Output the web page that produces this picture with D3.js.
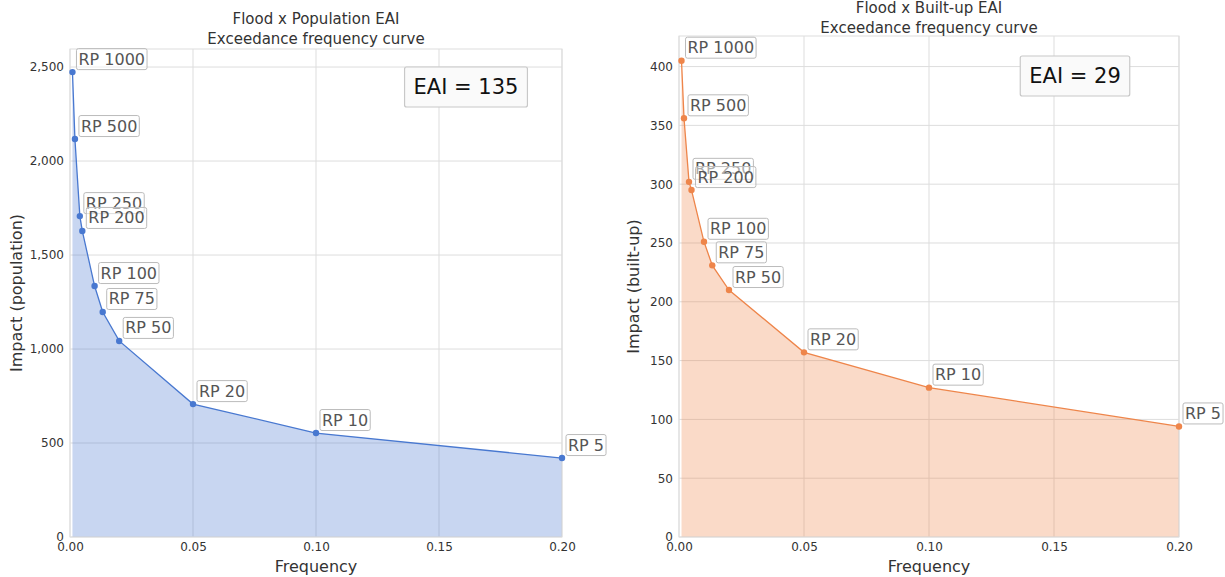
<!DOCTYPE html>
<html>
<head>
<meta charset="utf-8">
<script src="https://cdn.jsdelivr.net/npm/d3@7"></script>
<style>
  body { margin: 0; background: #fff; }
  svg { font-family: "DejaVu Sans", sans-serif; }
</style>
</head>
<body>
<div id="chart"></div>
<script>
// return periods and their exceedance frequencies
const rpLabels = ["RP 1000", "RP 500", "RP 250", "RP 200", "RP 100", "RP 75", "RP 50", "RP 20", "RP 10", "RP 5"];
const frequency = [0.001, 0.002, 0.004, 0.005, 0.01, 0.0133, 0.02, 0.05, 0.1, 0.2];

// impacts
const popImpact = [2473, 2117, 1707, 1628, 1335, 1197, 1043, 707, 553, 420];
const builtImpact = [405, 356, 302, 295, 251, 231, 210, 157, 127, 94];

const xTicks = [0, 0.05, 0.1, 0.15, 0.2];
const popTicks = [0, 500, 1000, 1500, 2000, 2500];
const builtTicks = [0, 50, 100, 150, 200, 250, 300, 350, 400];

const svg = d3.select("#chart").append("svg")
  .attr("width", 1225)
  .attr("height", 577);

function drawPanel(cfg) {
  const w = cfg.right - cfg.left, h = cfg.bottom - cfg.top;
  const g = svg.append("g").attr("transform", `translate(${cfg.left},${cfg.top})`);

  const x = d3.scaleLinear().domain([0, 0.2]).range([0, w]);
  const y = d3.scaleLinear().domain([0, cfg.ymax]).range([h, 0]);

  // grid
  g.selectAll("line.gx").data(xTicks).join("line").attr("class", "gx")
    .attr("x1", d => x(d)).attr("x2", d => x(d)).attr("y1", 0).attr("y2", h)
    .attr("stroke", "#dddddd").attr("stroke-width", 1);
  g.selectAll("line.gy").data(cfg.ticks).join("line").attr("class", "gy")
    .attr("x1", 0).attr("x2", w).attr("y1", d => y(d)).attr("y2", d => y(d))
    .attr("stroke", "#dddddd").attr("stroke-width", 1);

  const pts = frequency.map((f, i) => ({ f: f, v: cfg.values[i], label: rpLabels[i] }));

  // filled area under the curve
  g.append("path").datum(pts)
    .attr("d", d3.area().x(d => x(d.f)).y0(y(0)).y1(d => y(d.v)))
    .attr("fill", cfg.color).attr("fill-opacity", 0.3);

  g.append("path").datum(pts)
    .attr("d", d3.line().x(d => x(d.f)).y(d => y(d.v)))
    .attr("fill", "none").attr("stroke", cfg.color).attr("stroke-width", 1.3);

  // frame
  g.append("rect").attr("width", w).attr("height", h)
    .attr("fill", "none").attr("stroke", "#dddddd").attr("stroke-width", 1);

  g.selectAll("circle").data(pts).join("circle")
    .attr("cx", d => x(d.f)).attr("cy", d => y(d.v)).attr("r", 3.2)
    .attr("fill", cfg.color);

  // axes
  const xa = g.append("g").attr("transform", `translate(0,${h})`)
    .call(d3.axisBottom(x).tickValues(xTicks).tickFormat(d3.format(".2f")).tickSize(0).tickPadding(5));
  const ya = g.append("g")
    .call(d3.axisLeft(y).tickValues(cfg.ticks).tickFormat(cfg.fmt).tickSize(0).tickPadding(6));
  [xa, ya].forEach(a => {
    a.select(".domain").remove();
    a.selectAll("text").attr("fill", "#333").style("font-size", "12px")
      .style("font-family", "DejaVu Sans, sans-serif");
  });

  // point labels
  const lab = g.selectAll("g.lab").data(pts).join("g").attr("class", "lab")
    .attr("transform", d => `translate(${x(d.f) + 6},${y(d.v) - 13})`);
  lab.each(function(d) {
    const s = d3.select(this);
    const t = s.append("text").text(d.label)
      .attr("dominant-baseline", "central")
      .attr("fill", "#555").style("font-size", "16px");
    const bb = t.node().getBBox();
    s.insert("rect", "text")
      .attr("x", bb.x - 2).attr("y", bb.y - 1)
      .attr("width", bb.width + 4).attr("height", bb.height + 2)
      .attr("rx", 2)
      .attr("fill", "#fff").attr("fill-opacity", 0.5)
      .attr("stroke", "#bbb").attr("stroke-width", 1);
  });

  // EAI box
  const eb = g.append("g").attr("transform", `translate(${cfg.eaiX - cfg.left},${cfg.eaiY - cfg.top})`);
  const et = eb.append("text").text(cfg.eai)
    .attr("text-anchor", "middle").attr("dominant-baseline", "central")
    .attr("fill", "#111").style("font-size", "21px");
  const ebb = et.node().getBBox();
  eb.insert("rect", "text")
    .attr("x", ebb.x - 9).attr("y", ebb.y - 8)
    .attr("width", ebb.width + 18).attr("height", ebb.height + 16)
    .attr("rx", 2)
    .attr("fill", "#fafafa").attr("stroke", "#c8c8c8").attr("stroke-width", 1.2);

  // titles and axis labels
  const cx = (cfg.left + cfg.right) / 2;
  svg.append("text").attr("x", cx).attr("y", cfg.titleY)
    .attr("text-anchor", "middle").attr("fill", "#333").style("font-size", "15px")
    .text(cfg.title1);
  svg.append("text").attr("x", cx).attr("y", cfg.titleY + 20)
    .attr("text-anchor", "middle").attr("fill", "#333").style("font-size", "15px")
    .text("Exceedance frequency curve");
  svg.append("text").attr("x", cx).attr("y", 572)
    .attr("text-anchor", "middle").attr("fill", "#333").style("font-size", "16px")
    .text("Frequency");
  svg.append("text")
    .attr("transform", `translate(${cfg.ylabX},${(cfg.top + cfg.bottom) / 2}) rotate(-90)`)
    .attr("text-anchor", "middle").attr("fill", "#333").style("font-size", "16px")
    .text(cfg.ylab);
}

drawPanel({
  left: 70, right: 562, top: 49, bottom: 537,
  ymax: 2596, ticks: popTicks, fmt: d3.format(","),
  values: popImpact, color: "#4878d0",
  title1: "Flood x Population EAI", titleY: 24,
  ylab: "Impact (population)", ylabX: 22,
  eai: "EAI = 135", eaiX: 466, eaiY: 87
});

drawPanel({
  left: 679, right: 1179, top: 36, bottom: 537,
  ymax: 426, ticks: builtTicks, fmt: d3.format("d"),
  values: builtImpact, color: "#ee854a",
  title1: "Flood x Built-up EAI", titleY: 13,
  ylab: "Impact (built-up)", ylabX: 639,
  eai: "EAI = 29", eaiX: 1075, eaiY: 76
});
</script>
</body>
</html>
